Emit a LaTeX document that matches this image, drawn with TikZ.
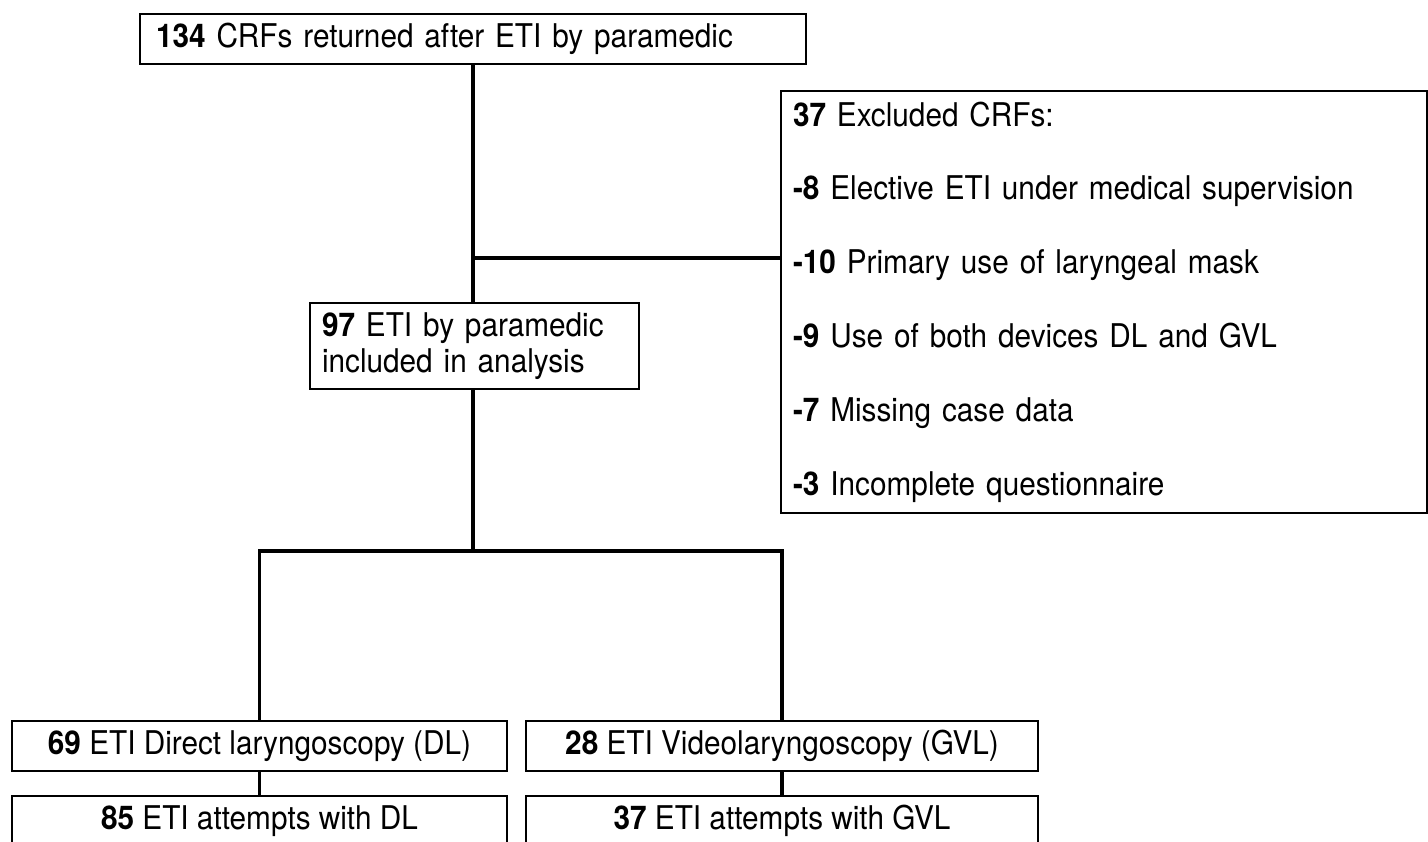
\documentclass[tikz,border=0pt]{standalone}
\usepackage{fontspec}
\setmainfont{TeX Gyre Heros}[FakeStretch=0.91]
\usepackage{tikz}
\usetikzlibrary{positioning}

\begin{document}
\begin{tikzpicture}[
    every node/.style={font=\fontsize{18.6}{20.5}\selectfont},
    box/.style={draw, line width=1.1pt, inner ysep=0pt, inner xsep=0.24cm, minimum height=1cm},
    link/.style={line width=1.8pt},
    trunk/.style={line width=2.8pt}
  ]
    \useasboundingbox (0,0) rectangle (28.56,-16.84);
    \clip (0,0) rectangle (28.56,-16.84);
    %Boxes
        \node[box, inner xsep=0.32cm, text width=12.68cm, align=left] (crfs) at (9.46,-0.78)
            {\textbf{134} CRFs returned after ETI by paramedic};
        \node[box, text width=6.10cm, align=left, minimum height=1.72cm] (incl) at (9.49,-6.92)
            {\textbf{97} ETI by paramedic\\included in analysis};
        \node[box, text width=12.44cm, align=left, minimum height=8.44cm,
              font=\fontsize{18.6}{42}\selectfont] (excl) at (22.08,-6.04)
            {\textbf{37} Excluded CRFs:\\
             \textbf{-8} Elective ETI under medical supervision\\
             \textbf{-10} Primary use of laryngeal mask\\
             \textbf{-9} Use of both devices DL and GVL\\
             \textbf{-7} Missing case data\\
             \textbf{-3} Incomplete questionnaire};
        \node[box, minimum width=9.9cm] (dl) at (5.19,-14.92)
            {\textbf{69} ETI Direct laryngoscopy (DL)};
        \node[box, minimum width=10.24cm] (gvl) at (15.64,-14.92)
            {\textbf{28} ETI Videolaryngoscopy (GVL)};
        \node[box, minimum width=9.9cm] (dlatt) at (5.19,-16.42)
            {\textbf{85} ETI attempts with DL};
        \node[box, minimum width=10.24cm] (gvlatt) at (15.64,-16.42)
            {\textbf{37} ETI attempts with GVL};
    %Connectors
        \coordinate (branch) at (crfs.south |- 0,-5.16);
        \coordinate (split) at (crfs.south |- 0,-11.02);
        \draw[link] (crfs.south) -- (crfs.south |- incl.north);
        \draw[link] (branch) -- (branch -| excl.west);
        \draw[trunk] (crfs.south |- incl.south) -- (split);
        \draw[link] (dl.north) |- (split) -| (gvl.north);
        \draw[link] (dl.south) -- (dlatt.north);
        \draw[link] (gvl.south) -- (gvlatt.north);
\end{tikzpicture}
\end{document}
